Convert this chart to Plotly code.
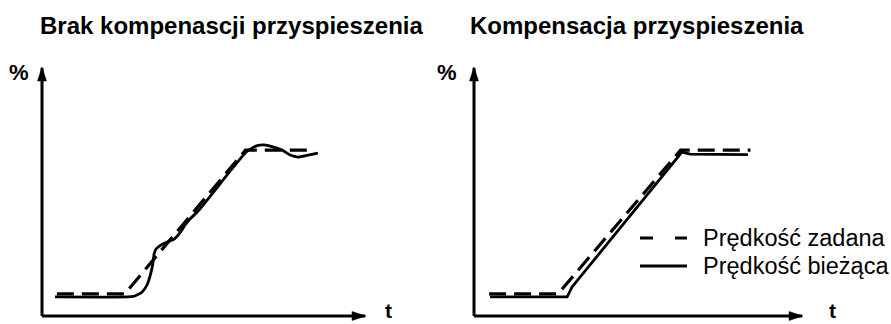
import plotly.graph_objects as go

# Canvas
W, H = 891, 324

# Setpoint speed (shared by both panels): time (0-100 along the axis) and % (0-100 up the axis)
set_t = [4.6, 25.6, 63.0, 84.3]
set_v = [8.9, 8.9, 66.9, 66.9]

# Actual speed without acceleration compensation
raw_t = [4.0, 26.6, 28.2, 29.4, 31.0, 32.5, 33.7, 34.4, 34.7, 35.3, 36.8, 38.7,
         40.9, 42.7, 44.3, 45.8, 48.3, 63.2, 65.0, 66.9, 68.7, 71.2, 74.3, 76.8,
         79.3, 82.4, 85.4]
raw_v = [7.7, 7.7, 7.9, 8.5, 9.7, 12.5, 17.3, 21.8, 25.0, 27.0, 28.6, 29.8,
         31.0, 33.5, 36.7, 39.1, 42.3, 66.1, 67.7, 68.8, 69.0, 68.3, 66.9, 64.9,
         64.1, 64.9, 65.7]

# Actual speed with acceleration compensation
comp_t = [4.9, 28.4, 29.9, 63.4, 65.9, 83.5]
comp_v = [7.7, 7.7, 11.7, 66.1, 65.3, 65.1]

titles = ["Brak kompenascji przyspieszenia", "Kompensacja przyspieszenia"]
legend_labels = ["Prędkość zadana", "Prędkość bieżąca"]

FONT = "Liberation Sans, Arial, Helvetica, sans-serif"


def fx(p):
    return p / W


def fy(p):
    return 1 - p / H


# Pixel geometry of each panel: origin x, x-arrow tip, origin y, y-arrow tip
panels = [
    dict(x0=42, x1=365, y0=316, y1=68, title_cx=232, pct_x=19, t_x=388),
    dict(x0=474, x1=802, y0=316, y1=68, title_cx=637, pct_x=447, t_x=832),
]

fig = go.Figure()

series = [(raw_t, raw_v, "spline"), (comp_t, comp_v, "linear")]
for i, (pan, (at, av, shp)) in enumerate(zip(panels, series)):
    sfx = "" if i == 0 else str(i + 1)
    xa, ya = "x" + sfx, "y" + sfx
    fig.add_trace(go.Scatter(x=set_t, y=set_v, mode="lines", xaxis=xa, yaxis=ya,
                             line=dict(color="black", width=3.2, dash="17px,8px"),
                             showlegend=False, hoverinfo="skip"))
    fig.add_trace(go.Scatter(x=at, y=av, mode="lines", xaxis=xa, yaxis=ya,
                             line=dict(color="black", width=2.8, shape=shp,
                                       smoothing=0.6),
                             showlegend=False, hoverinfo="skip"))

    dom_x = [fx(pan["x0"]), fx(pan["x1"])]
    dom_y = [fy(pan["y0"]), fy(pan["y1"])]
    axis_opts = dict(visible=False, range=[0, 100], fixedrange=True)
    fig.layout["xaxis" + sfx] = dict(domain=dom_x, anchor=ya, **axis_opts)
    fig.layout["yaxis" + sfx] = dict(domain=dom_y, anchor=xa, **axis_opts)

    # Axis lines
    fig.add_shape(type="line", xref="paper", yref="paper",
                  x0=dom_x[0], y0=dom_y[0], x1=dom_x[1], y1=dom_y[0],
                  line=dict(color="black", width=3))
    fig.add_shape(type="line", xref="paper", yref="paper",
                  x0=dom_x[0], y0=dom_y[0], x1=dom_x[0], y1=dom_y[1],
                  line=dict(color="black", width=3))
    # Arrow heads
    fig.add_shape(type="path", xref="paper", yref="paper",
                  xsizemode="pixel", ysizemode="pixel",
                  xanchor=dom_x[1], yanchor=dom_y[0],
                  path="M1,0 L-13,4.5 L-13,-4.5 Z",
                  fillcolor="black", line=dict(color="black", width=0.5))
    fig.add_shape(type="path", xref="paper", yref="paper",
                  xsizemode="pixel", ysizemode="pixel",
                  xanchor=dom_x[0], yanchor=dom_y[1],
                  path="M0,1 L-4.5,-13 L4.5,-13 Z",
                  fillcolor="black", line=dict(color="black", width=0.5))

    # Title and axis letters
    fig.add_annotation(text=titles[i], xref="paper", yref="paper",
                       x=fx(pan["title_cx"]), y=fy(25), xanchor="center",
                       yanchor="middle", showarrow=False,
                       font=dict(family=FONT, size=24, color="black", weight="bold"))
    fig.add_annotation(text="%", xref="paper", yref="paper",
                       x=fx(pan["pct_x"]), y=fy(72), xanchor="center",
                       yanchor="middle", showarrow=False,
                       font=dict(family=FONT, size=22, color="black", weight="bold"))
    fig.add_annotation(text="t", xref="paper", yref="paper",
                       x=fx(pan["t_x"]), y=0, xanchor="center",
                       yanchor="bottom", showarrow=False,
                       font=dict(family=FONT, size=21, color="black", weight="bold"))

# Legend drawn by hand at the right of the second panel
leg_rows = [(238, "13px,22px", 3.2), (266, "solid", 2.8)]
for (ly, dash, lw), label in zip(leg_rows, legend_labels):
    fig.add_shape(type="line", xref="paper", yref="paper",
                  x0=fx(640), x1=fx(687), y0=fy(ly), y1=fy(ly),
                  line=dict(color="black", width=lw, dash=dash))
    fig.add_annotation(text=label, xref="paper", yref="paper",
                       x=fx(701), y=fy(ly), xanchor="left", yanchor="middle",
                       showarrow=False,
                       font=dict(family=FONT, size=23.5, color="black"))

fig.update_layout(width=W, height=H, autosize=False,
                  margin=dict(l=0, r=0, t=0, b=0, pad=0),
                  paper_bgcolor="white", plot_bgcolor="white",
                  showlegend=False)

fig.write_html("out.html", config={"displayModeBar": False})
